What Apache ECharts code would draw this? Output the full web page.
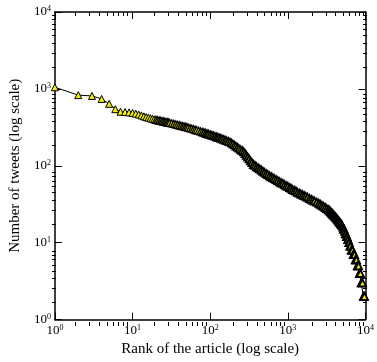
<!DOCTYPE html>
<html>
<head>
<meta charset="utf-8">
<script src="https://cdn.jsdelivr.net/npm/echarts@6/dist/echarts.min.js"></script>
<style>
  html, body { margin: 0; padding: 0; background: #fff; }
  #chart { width: 377px; height: 362px; }
</style>
</head>
<body>
<div id="chart"></div>
<script>
// rank of the article (x) and number of tweets (y)
const ranks = [
  1, 2, 3, 4, 5, 6, 7, 8, 9, 10, 11, 12, 13, 14, 15, 16, 17, 18, 19, 20,
  21, 22, 23, 24, 25, 26, 27, 28, 29, 30,
  32, 34, 36, 38, 40, 42, 44, 46, 48, 50,
  52, 55, 58, 61, 64, 67, 71, 75,
  79, 83, 87, 91, 95, 100,
  105, 110, 115, 120, 125, 130,
  136, 142, 149, 156, 163, 171, 180,
  188, 196, 205, 214, 224, 234, 245, 257, 270,
  281, 292, 304, 317, 331, 345, 360,
  377, 395, 414, 434, 455, 477, 500, 525, 551, 580,
  610, 640, 670, 705, 740, 780, 820, 860, 905, 950, 1000, 1050,
  1100, 1150, 1210, 1270, 1330, 1400,
  1470, 1540, 1620, 1700, 1790, 1900,
  2000, 2100, 2200, 2350, 2500,
  2620, 2750, 2880, 3020, 3170, 3320,
  3400, 3480, 3560, 3650, 3740, 3830, 3920, 4010, 4100, 4200,
  4300, 4400, 4500, 4600, 4700, 4800, 4900, 5000,
  5100, 5200, 5300, 5400, 5500, 5600, 5700, 5800, 5900, 6000,
  6100, 6200, 6300, 6400, 6550, 6700, 6800, 6950, 7100, 7250,
  7400, 7550, 7650, 7850, 8000, 8150, 8350, 8500, 8600, 8800,
  9000, 9150, 9400, 9550, 9700
]
const tweets = [
  1050, 830, 810, 740, 640, 545, 505, 500, 495, 487, 477, 465, 452, 440, 430, 422, 415, 408, 402, 396,
  392, 388, 384, 380, 377, 374, 371, 368, 365, 362,
  356, 351, 346, 341, 336, 332, 328, 325, 321, 318,
  314, 309, 304, 299, 294, 290, 285, 280,
  275, 271, 266, 262, 258, 254,
  250, 246, 242, 238, 235, 232,
  228, 224, 220, 216, 212, 208, 204,
  198, 192, 186, 180, 174, 169, 163, 158, 152,
  144, 137, 130, 123, 116, 110, 104,
  101, 97, 94, 91, 88, 85, 82, 79, 77, 74,
  72, 70, 68, 66, 64, 62, 60, 59, 57, 55, 54, 52,
  51, 49, 48, 47, 45, 44,
  43, 42, 41, 40, 39, 37.5,
  36.5, 35.6, 34.7, 33.6, 32.5,
  31.5, 30.5, 29.6, 28.7, 27.8, 26.9,
  26.5, 25.8, 25.2, 24.5, 23.9, 23.2, 22.7, 22.1, 21.6, 21,
  20.4, 19.8, 19.2, 18.7, 18.2, 17.7, 17.2, 16.8,
  16, 15, 15, 14, 13, 13, 12, 12, 11, 11,
  10, 10, 9, 9, 8, 8, 8, 7, 7, 7,
  6, 6, 6, 5, 5, 5, 4, 4, 4, 3,
  3, 3, 2, 2, 2
]
const majorTicks = [1, 10, 100, 1000, 10000]
const minorTicks = []
for (let d = 1; d < 10000; d *= 10) {
  for (let k = 2; k <= 9; k++) minorTicks.push(k * d)
}

const chart = echarts.init(document.getElementById('chart'), null, { renderer: 'canvas' })

const serif = 'Liberation Serif'
const supLabel = (v) => '{b|10}{s|' + Math.round(Math.log10(v)) + '}'
const rich = {
  b: { fontFamily: serif, fontSize: 13, color: '#000' },
  s: { fontFamily: serif, fontSize: 8, color: '#000', verticalAlign: 'top', padding: [0, 0, 6, 0] }
}
const gridBox = { left: 52, right: 10, top: 12, bottom: 36 }

// one log axis; major=true gives long ticks, else short minor ones
function logAxis(pos, gridIndex, major, withLabel, withLine) {
  return {
    type: 'log', logBase: 10, min: 1, max: 10000, position: pos, gridIndex: gridIndex,
    axisLine: { show: withLine, onZero: false, lineStyle: { color: '#000', width: 1.5 } },
    axisTick: {
      show: true, inside: true, length: major ? 7 : 4,
      customValues: major ? majorTicks : minorTicks,
      lineStyle: { color: '#000', width: 1 }
    },
    axisLabel: {
      show: withLabel, customValues: majorTicks, formatter: supLabel, rich: rich,
      margin: 4, showMinLabel: true, showMaxLabel: true
    },
    splitLine: { show: false },
    minorTick: { show: false }
  }
}

const xMain = logAxis('bottom', 0, true, true, true)
xMain.name = 'Rank of the article (log scale)'
xMain.nameLocation = 'middle'
xMain.nameGap = 17
xMain.nameTextStyle = { fontFamily: serif, fontSize: 15, color: '#000' }

const yMain = logAxis('left', 0, true, true, true)
yMain.name = 'Number of tweets (log scale)'
yMain.nameLocation = 'middle'
yMain.nameGap = 27
yMain.nameTextStyle = { fontFamily: serif, fontSize: 15, color: '#000' }

// where the triangles pile up the outlines dominate, so edges get heavier with rank
const edge = (r) => (r < 20 ? 1 : r < 80 ? 1.3 : r < 250 ? 1.6 : 1.8)
const points = ranks.map((r, i) => ({
  value: [r, tweets[i]],
  itemStyle: { borderWidth: edge(r) }
}))

chart.setOption({
  animation: false,
  backgroundColor: '#fff',
  grid: [Object.assign({}, gridBox), Object.assign({}, gridBox)],
  xAxis: [
    xMain,
    logAxis('top', 0, true, false, true),
    logAxis('bottom', 1, false, false, false),
    logAxis('top', 1, false, false, false)
  ],
  yAxis: [
    yMain,
    logAxis('right', 0, true, false, true),
    logAxis('left', 1, false, false, false),
    logAxis('right', 1, false, false, false)
  ],
  series: [
    {
      type: 'line',
      xAxisIndex: 0,
      yAxisIndex: 0,
      data: points,
      symbol: 'triangle',
      symbolSize: 7,
      showAllSymbol: true,
      itemStyle: { color: '#eeee00', borderColor: '#000', borderWidth: 1 },
      lineStyle: { color: '#000', width: 1 },
      z: 5
    }
  ]
})
</script>
</body>
</html>
